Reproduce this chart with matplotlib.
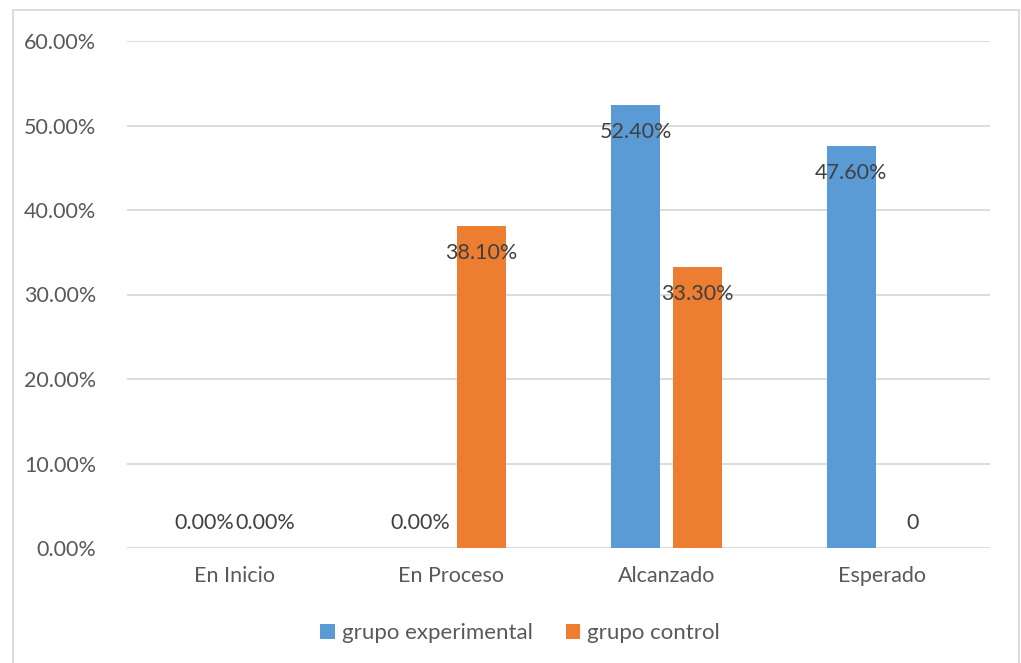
import numpy as np
import matplotlib
matplotlib.use("Agg")
import matplotlib.pyplot as plt
from matplotlib.patches import Rectangle

categories = ["En Inicio", "En Proceso", "Alcanzado", "Esperado"]
experimental = [0.0, 0.0, 52.4, 47.6]
control = [0.0, 38.1, 33.3, 0.0]
exp_labels = ["0.00%", "0.00%", "52.40%", "47.60%"]
ctrl_labels = ["0.00%", "38.10%", "33.30%", "0"]
y_ticks = [0, 10, 20, 30, 40, 50, 60]

BLUE = "#5B9BD5"
ORANGE = "#ED7D31"
TEXT = "#595959"
LABEL = "#404040"
GRID = "#D9D9D9"

plt.rcParams['font.family'] = ['Lato', 'DejaVu Sans']

fig = plt.figure(figsize=(10.21, 6.63), dpi=100)
ax = fig.add_axes([127/1021, 1-548/663, (990-127)/1021, (548-41)/663])

# outer chart border
fig.patches.append(Rectangle((13/1021, -0.01), (1019-13)/1021, 1-10/663 + 0.01,
                             transform=fig.transFigure, fill=False,
                             edgecolor=GRID, linewidth=1.3))

x = np.arange(len(categories))
w = 0.227
off = 0.143
b1 = ax.bar(x - off, experimental, w, color=BLUE, label="grupo experimental", zorder=3)
b2 = ax.bar(x + off, control, w, color=ORANGE, label="grupo control", zorder=3)

for bars, labels in ((b1, exp_labels), (b2, ctrl_labels)):
    for rect, lab in zip(bars, labels):
        h = rect.get_height()
        dy = -27 if h > 0 else 25
        ax.annotate(lab, (rect.get_x() + rect.get_width()/2, h),
                    xytext=(0, dy), textcoords='offset pixels',
                    ha='center', va='center', fontsize=15.5, color=LABEL, zorder=4)

ax.set_xlim(-0.5, 3.5)
ax.set_ylim(0, 60)
ax.set_yticks(y_ticks)
ax.set_yticklabels([f"{t:.2f}%" for t in y_ticks])
ax.set_xticks(x)
ax.set_xticklabels(categories)
ax.tick_params(axis='both', length=0, labelsize=15.5, colors=TEXT)
ax.tick_params(axis='y', pad=22)
ax.tick_params(axis='x', pad=13)
ax.grid(axis='y', color=GRID, linewidth=1.3, zorder=0)
for s in ax.spines.values():
    s.set_visible(False)

fig.legend(handles=[b1, b2], loc='center', bbox_to_anchor=(520/1021, 1-633/663),
           ncol=2, frameon=False, fontsize=16, labelcolor=TEXT,
           handlelength=0.65, handleheight=0.65, handletextpad=0.3, columnspacing=1.5)

fig.savefig("out.png", dpi=100)
